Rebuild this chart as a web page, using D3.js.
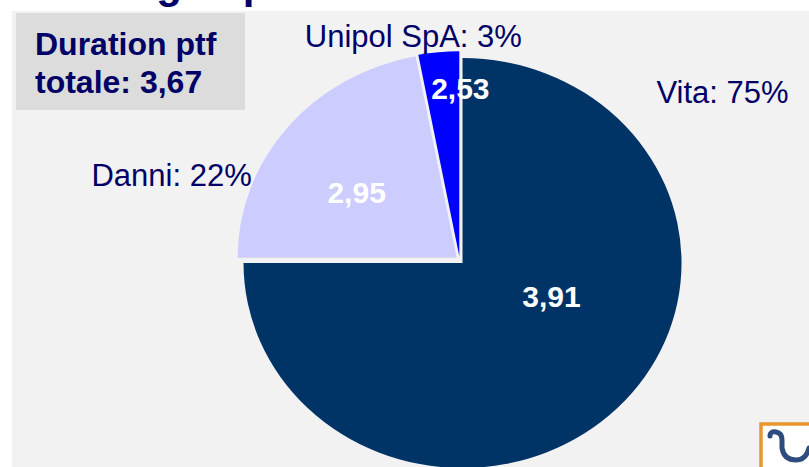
<!DOCTYPE html>
<html>
<head>
<meta charset="utf-8">
<script src="https://cdn.jsdelivr.net/npm/d3@7"></script>
<style>
  html, body { margin: 0; padding: 0; background: #fff; }
  svg { display: block; font-family: 'Liberation Sans', Arial, sans-serif; }
</style>
</head>
<body>
<svg id="chart"></svg>
<script>
// data
const categories = ['Vita', 'Danni', 'Unipol SpA']
const shares = [75, 22, 3]
const durations = [3.91, 2.95, 2.53]
const totalDuration = 3.67

const width = 809
const height = 467
const navy = '#000066'
const colors = ['#003366', '#CCCCFF', '#0000FF']

// text placement relative to each slice's own centre (screen px)
const valueOffset = [[89, 44], [-100, -55], [1, -157]]
const labelOffset = [[260, -160], [-285, -72], [-46, -209]]

const it = d3.formatLocale({ decimal: ',', thousands: '.', grouping: [3], currency: ['€', ''] })
const fmt = it.format('.2f')

const svg = d3.select('#chart')
    .attr('width', width)
    .attr('height', height)

// cropped slide title: only descenders show
svg.append('text')
    .attr('x', -133)
    .attr('y', -2)
    .attr('fill', navy)
    .attr('font-size', 42)
    .attr('font-weight', 'bold')
    .text('Duration: rating di perimetro')

// grey slide panel
svg.append('rect')
    .attr('x', 12)
    .attr('y', 11)
    .attr('width', width)
    .attr('height', height)
    .attr('fill', '#F2F2F2')

// total duration box
svg.append('rect')
    .attr('x', 16)
    .attr('y', 13)
    .attr('width', 229)
    .attr('height', 97)
    .attr('fill', '#DCDCDC')

const box = svg.append('text')
    .attr('fill', navy)
    .attr('font-size', 32)
    .attr('font-weight', 'bold')
box.append('tspan').attr('x', 35).attr('y', 55).text('Duration ptf')
box.append('tspan').attr('x', 35).attr('y', 93).text('totale: ' + fmt(totalDuration))

// pie, slightly flattened as on the slide
const cx = 459.7
const cy = 260.2
const radius = 219
const ky = 205 / 219
const explode = 4

const pie = d3.pie().sort(null).value(d => d)
const arcs = pie(shares)
const arc = d3.arc().innerRadius(0).outerRadius(radius)

const centre = d => {
  const a = (d.startAngle + d.endAngle) / 2
  return [cx + explode * Math.sin(a), cy - explode * Math.cos(a)]
}

svg.selectAll('.slice')
    .data(arcs)
  .enter().append('path')
    .attr('class', 'slice')
    .attr('transform', d => {
      const c = centre(d)
      return `translate(${c[0]},${c[1]}) scale(1,${ky})`
    })
    .attr('d', arc)
    .attr('fill', (d, i) => colors[i])

svg.selectAll('.value')
    .data(arcs)
  .enter().append('text')
    .attr('class', 'value')
    .attr('x', (d, i) => centre(d)[0] + valueOffset[i][0])
    .attr('y', (d, i) => centre(d)[1] + valueOffset[i][1])
    .attr('text-anchor', 'middle')
    .attr('fill', '#fff')
    .attr('font-size', 30)
    .attr('font-weight', 'bold')
    .text((d, i) => fmt(durations[i]))

svg.selectAll('.label')
    .data(arcs)
  .enter().append('text')
    .attr('class', 'label')
    .attr('x', (d, i) => centre(d)[0] + labelOffset[i][0])
    .attr('y', (d, i) => centre(d)[1] + labelOffset[i][1])
    .attr('text-anchor', 'middle')
    .attr('fill', navy)
    .attr('font-size', 31)
    .text((d, i) => `${categories[i]}: ${shares[i]}%`)

// corner of the logo
const logo = svg.append('g')
logo.append('rect')
    .attr('x', 761)
    .attr('y', 424)
    .attr('width', 60)
    .attr('height', 60)
    .attr('fill', '#fff')
    .attr('stroke', '#E8972F')
    .attr('stroke-width', 3.5)
logo.append('path')
    .attr('d', 'M770,436 Q770,431 776,432 Q782,433 782,440 L782,448 Q784,460 796,460 Q806,460 809,448')
    .attr('fill', 'none')
    .attr('stroke', '#2D4B7C')
    .attr('stroke-width', 5)
    .attr('stroke-linecap', 'round')
</script>
</body>
</html>
